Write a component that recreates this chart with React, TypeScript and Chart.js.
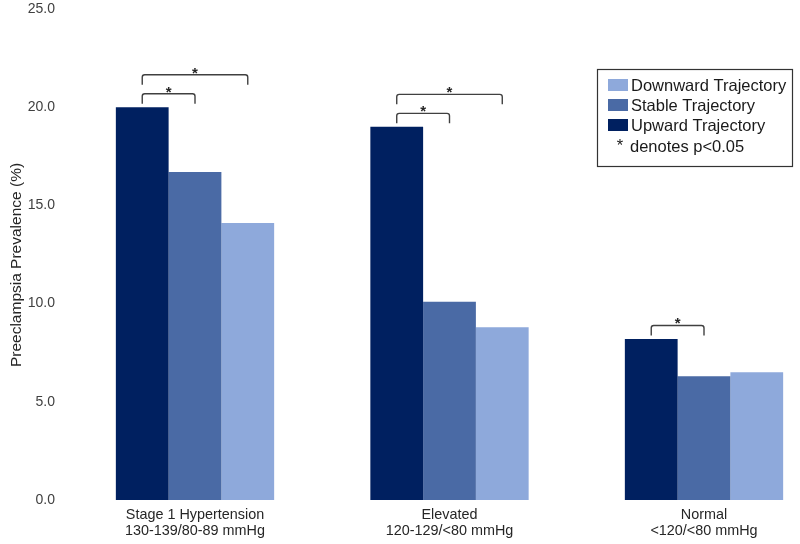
import React, { useEffect, useRef } from 'react';
import { Chart, registerables } from 'chart.js';

Chart.register(...registerables);

// ---- data ----
const categories: string[][] = [
  ['Stage 1 Hypertension', '130-139/80-89 mmHg'],
  ['Elevated', '120-129/<80 mmHg'],
  ['Normal', '<120/<80 mmHg'],
];
const seriesNames = ['Upward Trajectory', 'Stable Trajectory', 'Downward Trajectory'];
const upward = [20.0, 19.0, 8.2];
const stable = [16.7, 10.1, 6.3];
const downward = [14.1, 8.8, 6.5];
const seriesColors = ['#002060', '#4A6AA5', '#8EA9DB'];
const yTitle = 'Preeclampsia Prevalence (%)';
const sigNote = 'denotes p<0.05';
// significance comparisons
const compCategory = [0, 0, 1, 1, 2];
const compFrom = [0, 0, 0, 0, 0];
const compTo = [1, 2, 1, 2, 1];
const compLevel = [0, 1, 0, 1, 0];

const FONT = '"Liberation Sans", Arial, Helvetica, sans-serif';

// x range in category units (linear index axis)
const X_MIN = -0.5226;
const X_MAX = 2.3772;

const bracketPlugin = {
  id: 'brackets',
  afterDatasetsDraw(chart: any) {
    const ctx = chart.ctx;
    ctx.save();
    ctx.strokeStyle = '#404040';
    ctx.lineWidth = 1.4;
    ctx.lineJoin = 'round';
    ctx.fillStyle = '#262626';
    ctx.font = `bold 15px ${FONT}`;
    ctx.textAlign = 'center';
    ctx.textBaseline = 'alphabetic';
    for (let k = 0; k < compCategory.length; k++) {
      const c = compCategory[k];
      const a = chart.getDatasetMeta(compFrom[k]).data[c];
      const b = chart.getDatasetMeta(compTo[k]).data[c];
      const top = Math.min(a.y, b.y);
      const yLine = top - 13.5 - compLevel[k] * 19;
      const x1 = a.x;
      const x2 = b.x;
      const r = 2.5;
      ctx.beginPath();
      ctx.moveTo(x1, yLine + 10);
      ctx.arcTo(x1, yLine, x1 + r, yLine, r);
      ctx.arcTo(x2, yLine, x2, yLine + r, r);
      ctx.lineTo(x2, yLine + 10);
      ctx.stroke();
      ctx.fillText('*', (x1 + x2) / 2, yLine + 3);
    }
    ctx.restore();
  },
};

const legendPlugin = {
  id: 'boxLegend',
  afterDraw(chart: any) {
    const ctx = chart.ctx;
    ctx.save();
    const left = 597.5, top = 69.5, w = 195, h = 97;
    ctx.strokeStyle = '#333333';
    ctx.lineWidth = 1.2;
    ctx.strokeRect(left, top, w, h);
    ctx.font = `16.5px ${FONT}`;
    ctx.textBaseline = 'middle';
    ctx.textAlign = 'left';
    const order = [2, 1, 0];
    order.forEach((di, i) => {
      const cy = 85 + i * 20;
      ctx.fillStyle = chart.data.datasets[di].backgroundColor;
      ctx.fillRect(608, cy - 6, 20, 12);
      ctx.fillStyle = '#1a1a1a';
      ctx.fillText(chart.data.datasets[di].label, 631, cy + 1);
    });
    const ny = 146;
    ctx.textAlign = 'center';
    ctx.fillText('*', 620, ny);
    ctx.textAlign = 'left';
    ctx.fillText(sigNote, 630, ny + 1);
    ctx.restore();
  },
};

const yTitlePlugin = {
  id: 'yTitle',
  afterDraw(chart: any) {
    const ctx = chart.ctx;
    ctx.save();
    ctx.translate(17, 265);
    ctx.rotate(-Math.PI / 2);
    ctx.font = `15.5px ${FONT}`;
    ctx.fillStyle = '#262626';
    ctx.textAlign = 'center';
    ctx.textBaseline = 'middle';
    ctx.fillText(yTitle, 0, 0);
    ctx.restore();
  },
};

export default function App() {
  const ref = useRef<HTMLCanvasElement>(null);
  useEffect(() => {
    const canvas = ref.current;
    if (!canvas) return;
    const datasets = [upward, stable, downward].map((vals, i) => ({
      label: seriesNames[i],
      data: vals.map((v, j) => ({ x: j, y: v })),
      backgroundColor: seriesColors[i],
      borderWidth: 0,
      categoryPercentage: 0.622,
      barPercentage: 1.0,
    }));
    const chart = new Chart(canvas, {
      type: 'bar',
      data: { datasets } as any,
      options: {
        responsive: false,
        animation: false,
        layout: { padding: { top: 9, right: 0, left: 0, bottom: 0 } },
        plugins: { legend: { display: false }, tooltip: { enabled: false } },
        scales: {
          x: {
            type: 'linear',
            min: X_MIN,
            max: X_MAX,
            offset: false,
            grid: { display: false, drawTicks: false },
            border: { display: false },
            afterBuildTicks: (s: any) => {
              s.ticks = categories.map((_, i) => ({ value: i }));
            },
            afterFit: (s: any) => {
              s.height = 44;
            },
            ticks: {
              autoSkip: false,
              maxRotation: 0,
              minRotation: 0,
              padding: 7,
              color: '#262626',
              font: { family: FONT, size: 14.4, lineHeight: 16 / 14.4 },
              callback: (v: any) => categories[Math.round(Number(v))] ?? '',
            },
          },
          y: {
            min: 0,
            max: 25,
            grid: { display: false, drawTicks: true, tickLength: 7 },
            border: { display: false },
            afterFit: (s: any) => {
              s.width = 62;
            },
            ticks: {
              stepSize: 5,
              padding: 0,
              color: '#404040',
              font: { family: FONT, size: 14 },
              callback: (v: any) => Number(v).toFixed(1),
            },
          },
        },
      } as any,
      plugins: [bracketPlugin, legendPlugin, yTitlePlugin],
    });
    return () => chart.destroy();
  }, []);
  return (
    <div style={{ position: 'fixed', left: 0, top: 0, width: 800, height: 544, background: '#fff' }}>
      <canvas ref={ref} width={800} height={544} style={{ display: 'block', width: 800, height: 544 }} />
    </div>
  );
}
